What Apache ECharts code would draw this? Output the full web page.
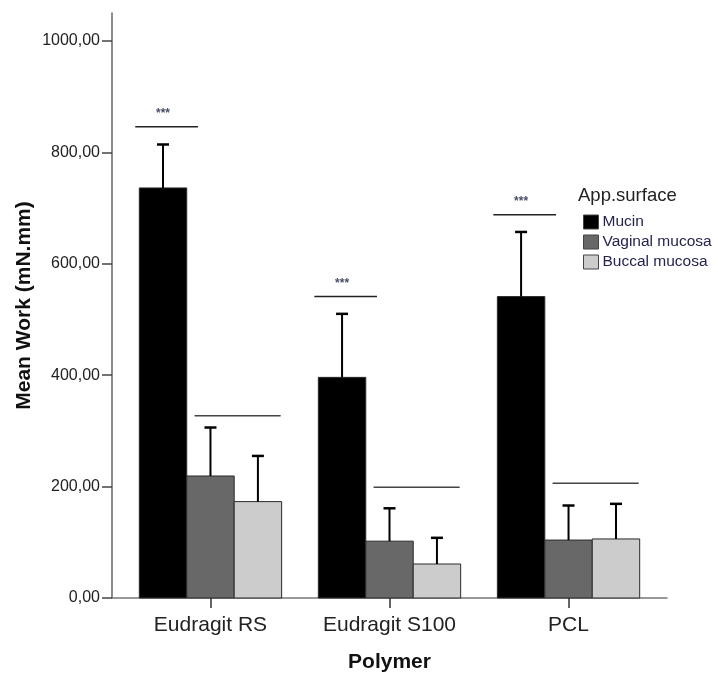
<!DOCTYPE html>
<html>
<head>
<meta charset="utf-8">
<script src="https://cdn.jsdelivr.net/npm/echarts@6/dist/echarts.min.js"></script>
<style>
html,body{margin:0;padding:0;background:#fff;}
#chart{width:718px;height:673px;}
</style>
</head>
<body>
<div id="chart"></div>
<script>
// ---- data ----
var categories = ['Eudragit RS', 'Eudragit S100', 'PCL'];
var surfaces = ['Mucin', 'Vaginal mucosa', 'Buccal mucosa'];
var mucinMean = [736, 396, 541];
var mucinUpper = [814, 510, 657];
var vaginalMean = [219, 102, 104];
var vaginalUpper = [306, 161, 166];
var buccalMean = [173, 61, 106];
var buccalUpper = [255, 108, 169];
// significance annotations
var sigMucinY = [846, 541, 688];
var sigOtherY = [327, 199, 206];
var sigLabel = '***';
var yTicks = [0, 200, 400, 600, 800, 1000];

var colors = ['#000000', '#686868', '#cccccc'];
var barW = 0.265;            // bar width in category units
var offsets = [-barW, 0, barW];

function barSeries(name, means, idx) {
  return {
    name: name,
    type: 'custom',
    coordinateSystem: 'cartesian2d',
    itemStyle: { color: colors[idx], borderColor: '#333', borderWidth: 1 },
    data: means.map(function (v, i) { return [i, v]; }),
    encode: { x: 0, y: 1 },
    renderItem: function (params, api) {
      var c = api.value(0), v = api.value(1);
      var p1 = api.coord([c + offsets[idx] - barW / 2, v]);
      var p2 = api.coord([c + offsets[idx] + barW / 2, 0]);
      return {
        type: 'rect',
        shape: { x: p1[0], y: p1[1], width: p2[0] - p1[0], height: p2[1] - p1[1] },
        style: { fill: colors[idx], stroke: '#2a2a2a', lineWidth: 1 }
      };
    },
    z: 3
  };
}

function errSeries(means, uppers, idx) {
  return {
    type: 'custom',
    coordinateSystem: 'cartesian2d',
    silent: true,
    data: means.map(function (v, i) { return [i, v, uppers[i]]; }),
    encode: { x: 0, y: [1, 2] },
    renderItem: function (params, api) {
      var c = api.value(0) + offsets[idx];
      var lo = api.coord([c, api.value(1)]);
      var hi = api.coord([c, api.value(2)]);
      return {
        type: 'group',
        children: [
          { type: 'line', shape: { x1: lo[0], y1: lo[1], x2: hi[0], y2: hi[1] }, style: { stroke: '#000', lineWidth: 2 } },
          { type: 'line', shape: { x1: hi[0] - 6, y1: hi[1], x2: hi[0] + 6, y2: hi[1] }, style: { stroke: '#000', lineWidth: 2.5 } }
        ]
      };
    },
    z: 4
  };
}

var sigSeries = {
  type: 'custom',
  coordinateSystem: 'cartesian2d',
  silent: true,
  data: categories.map(function (c, i) { return [i, sigMucinY[i], sigOtherY[i]]; }),
  encode: { x: 0, y: [1, 2] },
  renderItem: function (params, api) {
    var c = api.value(0);
    var a1 = api.coord([c - 0.42, api.value(1)]);
    var a2 = api.coord([c - 0.07, api.value(1)]);
    var st = api.coord([c + offsets[0], api.value(1)]);
    var b1 = api.coord([c - 0.089, api.value(2)]);
    var b2 = api.coord([c + 0.392, api.value(2)]);
    return {
      type: 'group',
      children: [
        { type: 'line', shape: { x1: a1[0], y1: a1[1], x2: a2[0], y2: a2[1] }, style: { stroke: '#222', lineWidth: 1.5 } },
        { type: 'text', style: { x: st[0], y: st[1] - 13, text: sigLabel, fill: '#4a5068', font: 'bold 12px "Liberation Sans", Arial, sans-serif', align: 'center', verticalAlign: 'middle' } },
        { type: 'line', shape: { x1: b1[0], y1: b1[1], x2: b2[0], y2: b2[1] }, style: { stroke: '#444', lineWidth: 1.5 } }
      ]
    };
  },
  z: 5
};

var chart = echarts.init(document.getElementById('chart'), null, { renderer: 'canvas' });
var font = '"Liberation Sans", Arial, sans-serif';
chart.setOption({
  backgroundColor: '#ffffff',
  animation: false,
  title: {
    text: 'App.surface',
    left: 573, top: 181,
    textStyle: { fontFamily: font, fontSize: 18.5, fontWeight: 'normal', color: '#222' }
  },
  legend: {
    orient: 'vertical',
    left: 578, top: 209,
    itemWidth: 15, itemHeight: 14, itemGap: 4,
    icon: 'rect',
    data: surfaces.map(function (s, i) {
      return { name: s, itemStyle: { color: colors[i], borderColor: '#444', borderWidth: 1 } };
    }),
    textStyle: { fontFamily: font, fontSize: 15.5, color: '#24244e', padding: [0, 0, 0, -1] }
  },
  grid: { left: 112, right: 51, top: 13, bottom: 75, containLabel: false, outerBoundsMode: 'none' },
  xAxis: {
    type: 'value', min: -0.55, max: 2.55,
    name: 'Polymer', nameLocation: 'middle', nameGap: 54, nameMoveOverlap: false,
    nameTextStyle: { fontFamily: font, fontSize: 21, fontWeight: 'bold', color: '#111' },
    splitLine: { show: false },
    axisLine: { show: true, onZero: false, lineStyle: { color: '#777', width: 1.5 } },
    axisTick: { show: true, customValues: [0, 1, 2], length: 10, lineStyle: { color: '#333', width: 1.5 } },
    axisLabel: {
      customValues: [0, 1, 2], margin: 17,
      formatter: function (v) { return categories[Math.round(v)] || ''; },
      fontFamily: font, fontSize: 21, color: '#222'
    }
  },
  yAxis: {
    type: 'value', min: 0, max: 1050,
    name: 'Mean Work (mN.mm)', nameLocation: 'middle', nameGap: 77, nameMoveOverlap: false,
    nameTextStyle: { fontFamily: font, fontSize: 21, fontWeight: 'bold', color: '#111' },
    splitLine: { show: false },
    axisLine: { show: true, onZero: false, lineStyle: { color: '#666', width: 1.5 } },
    axisTick: { show: true, customValues: yTicks, length: 10, lineStyle: { color: '#444', width: 1.5 } },
    axisLabel: {
      customValues: yTicks, margin: 12,
      formatter: function (v) { return v.toFixed(2).replace('.', ','); },
      fontFamily: font, fontSize: 16, color: '#222'
    }
  },
  series: [
    barSeries(surfaces[0], mucinMean, 0),
    barSeries(surfaces[1], vaginalMean, 1),
    barSeries(surfaces[2], buccalMean, 2),
    errSeries(mucinMean, mucinUpper, 0),
    errSeries(vaginalMean, vaginalUpper, 1),
    errSeries(buccalMean, buccalUpper, 2),
    sigSeries
  ]
});
</script>
</body>
</html>
